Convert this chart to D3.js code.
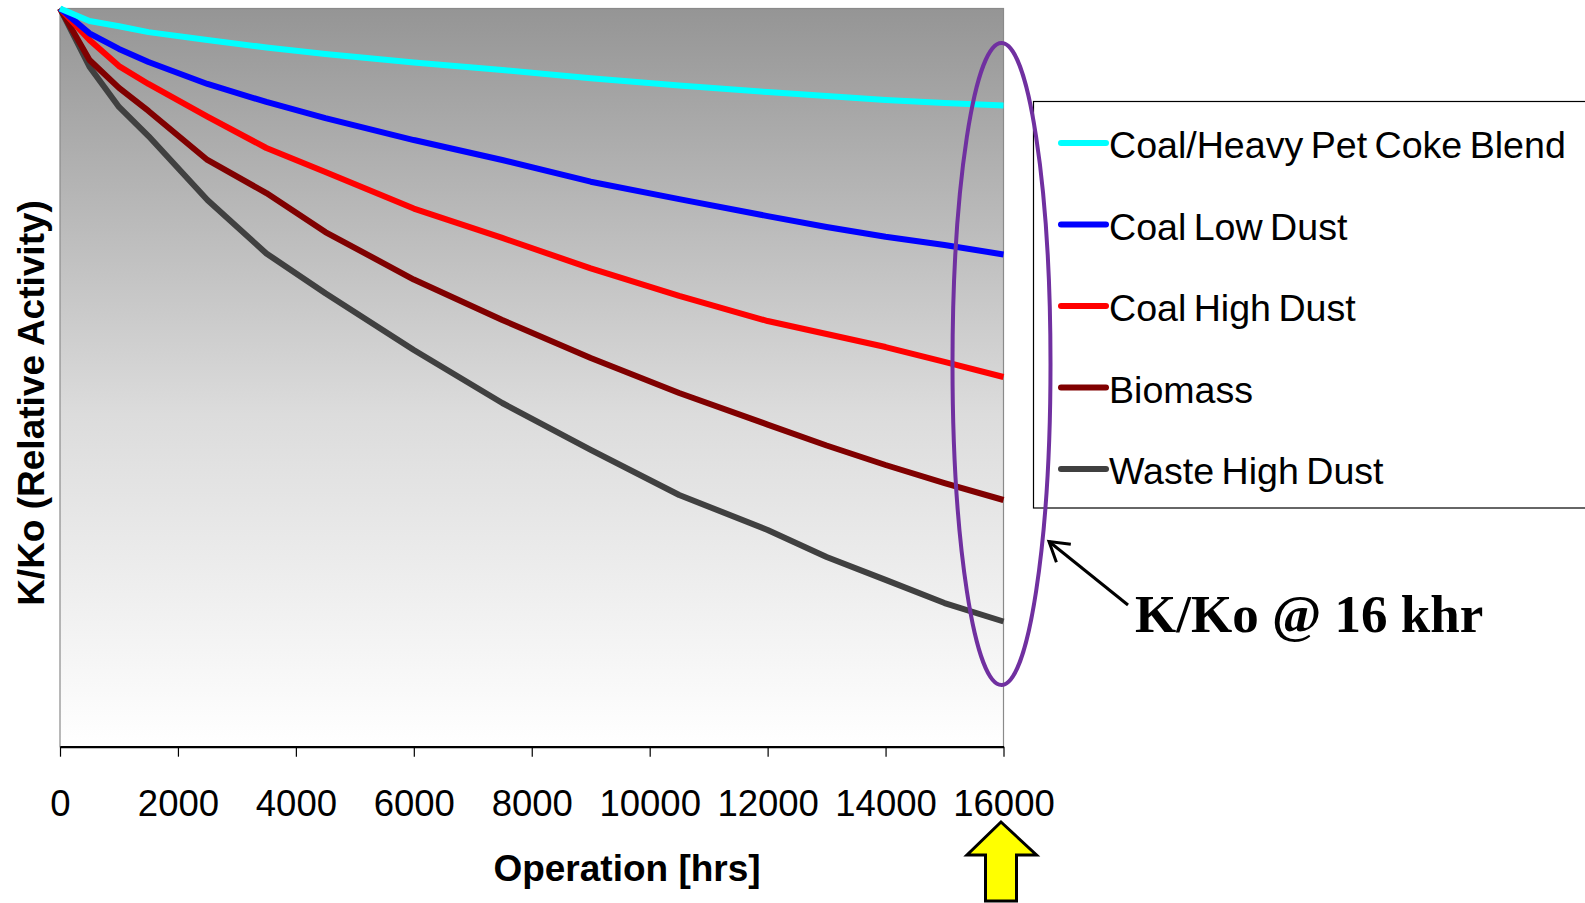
<!DOCTYPE html>
<html><head><meta charset="utf-8">
<script src="https://cdn.jsdelivr.net/npm/d3@7"></script>
<style>body{margin:0;background:#fff;} svg{display:block;}</style>
</head><body>
<svg id="chart" width="1585" height="903"></svg>
<script>
// ---- data ----
const hours = [0, 500, 1000, 1500, 2500, 3500, 4500, 6000, 7500, 9000, 10500, 12000, 13000, 14000, 15000, 16000];
const coalPetCoke = [1.000, 0.9915, 0.988, 0.984, 0.9787, 0.9736, 0.9692, 0.9634, 0.9583, 0.9527, 0.9478, 0.9434, 0.9407, 0.938, 0.936, 0.9343];
const coalLowDust = [1.000, 0.9832, 0.9726, 0.9638, 0.9489, 0.9367, 0.9258, 0.9109, 0.8974, 0.8827, 0.8709, 0.8594, 0.852, 0.8454, 0.8398, 0.8334];
const coalHighDust = [1.000, 0.9787, 0.961, 0.9489, 0.9268, 0.9055, 0.8893, 0.8645, 0.8446, 0.824, 0.8053, 0.7883, 0.7795, 0.7707, 0.7606, 0.7504];
const biomass = [1.000, 0.9651, 0.9462, 0.9306, 0.8974, 0.875, 0.8486, 0.8164, 0.789, 0.7633, 0.7396, 0.7182, 0.704, 0.6908, 0.6786, 0.6671];
const wasteHighDust = [1.000, 0.9606, 0.9333, 0.9136, 0.8703, 0.8341, 0.8071, 0.7687, 0.7328, 0.701, 0.6705, 0.6468, 0.6285, 0.613, 0.5973, 0.5848];
const seriesNames = ["Coal/Heavy Pet Coke Blend", "Coal Low Dust", "Coal High Dust", "Biomass", "Waste High Dust"];
const seriesColors = ["#00FFFF", "#0000FF", "#FF0000", "#800000", "#404040"];
const xTicks = [0, 2000, 4000, 6000, 8000, 10000, 12000, 14000, 16000];
const yDomain = [0.5, 1.0];
const xTitle = "Operation [hrs]";
const yTitle = "K/Ko (Relative Activity)";
const calloutText = "K/Ko @ 16 khr";

const seriesValues = [coalPetCoke, coalLowDust, coalHighDust, biomass, wasteHighDust];
const series = seriesNames.map((n, i) => ({
  name: n, color: seriesColors[i],
  points: hours.map((h, j) => ({ h, v: seriesValues[i][j] }))
}));

const svg = d3.select("#chart");
const L = 60, R = 1003.5, T = 8.5, B = 746.7;
const x = d3.scaleLinear().domain([0, 16000]).range([L, R]);
const y = d3.scaleLinear().domain(yDomain).range([B, T]);

// gradient background
const defs = svg.append("defs");
const grad = defs.append("linearGradient").attr("id", "bg").attr("x1", 0).attr("y1", 0).attr("x2", 0).attr("y2", 1);
grad.append("stop").attr("offset", "0%").attr("stop-color", "#959595");
grad.append("stop").attr("offset", "55%").attr("stop-color", "#dcdcdc");
grad.append("stop").attr("offset", "100%").attr("stop-color", "#ffffff");

svg.append("rect").attr("x", L).attr("y", T).attr("width", R - L).attr("height", B - T)
  .attr("fill", "url(#bg)").attr("stroke", "#8a8a8a").attr("stroke-width", 1.2);

// lines
const line = d3.line().x(d => x(d.h)).y(d => y(d.v));
svg.append("g").selectAll("path").data(series.slice().reverse()).join("path")
  .attr("d", d => line(d.points))
  .attr("fill", "none").attr("stroke", d => d.color)
  .attr("stroke-width", 6).attr("stroke-linejoin", "round");

// x axis
const xAxis = d3.axisBottom(x).tickValues(xTicks).tickSize(10).tickSizeOuter(0).tickPadding(33)
  .tickFormat(d3.format("d"));
const gx = svg.append("g").attr("transform", `translate(0,${B})`).call(xAxis);
gx.select(".domain").attr("stroke", "#000").attr("stroke-width", 2.2);
gx.selectAll(".tick line").attr("stroke", "#000").attr("stroke-width", 1.2);
gx.selectAll(".tick text").attr("font-family", "Arial, 'Liberation Sans', sans-serif")
  .attr("font-size", 36.5).attr("fill", "#000");

// axis titles
svg.append("text").attr("x", 627).attr("y", 881).attr("text-anchor", "middle")
  .attr("font-family", "Arial, 'Liberation Sans', sans-serif").attr("font-weight", "bold")
  .attr("font-size", 37).attr("fill", "#000").text(xTitle);
svg.append("text").attr("transform", "translate(44,403) rotate(-90)").attr("text-anchor", "middle")
  .attr("font-family", "Arial, 'Liberation Sans', sans-serif").attr("font-weight", "bold")
  .attr("font-size", 37).attr("fill", "#000").text(yTitle);

// legend
const lg = svg.append("g");
lg.append("rect").attr("x", 1033.5).attr("y", 101.5).attr("width", 560).attr("height", 406.5)
  .attr("fill", "#fff").attr("stroke", "#000").attr("stroke-width", 1.2);
const rows = lg.selectAll("g.row").data(series).join("g").attr("class", "row")
  .attr("transform", (d, i) => `translate(0,${143 + i * 81.5})`);
rows.append("line").attr("x1", 1061).attr("x2", 1106).attr("y1", 0).attr("y2", 0)
  .attr("stroke", d => d.color).attr("stroke-width", 6).attr("stroke-linecap", "round");
rows.append("text").attr("x", 1109).attr("y", 15)
  .attr("font-family", "Arial, 'Liberation Sans', sans-serif").attr("font-size", 37.6)
  .attr("word-spacing", -3).attr("fill", "#000").text(d => d.name);

// ellipse around the 16 khr values
const cx = x(16000) - 2;
svg.append("ellipse").attr("cx", cx).attr("cy", 364).attr("rx", 49).attr("ry", 321)
  .attr("fill", "none").attr("stroke", "#7030A0").attr("stroke-width", 4);

// callout arrow
const a0 = [1128, 605], a1 = [1049, 541.5];
svg.append("line").attr("x1", a0[0]).attr("y1", a0[1]).attr("x2", a1[0]).attr("y2", a1[1])
  .attr("stroke", "#000").attr("stroke-width", 3);
const ang = Math.atan2(a0[1] - a1[1], a0[0] - a1[0]);
const hl = 22, spread = 0.55;
const p1 = [a1[0] + hl * Math.cos(ang - spread), a1[1] + hl * Math.sin(ang - spread)];
const p2 = [a1[0] + hl * Math.cos(ang + spread), a1[1] + hl * Math.sin(ang + spread)];
svg.append("path").attr("d", `M${p1}L${a1}L${p2}`).attr("fill", "none")
  .attr("stroke", "#000").attr("stroke-width", 3).attr("stroke-linejoin", "miter");
svg.append("text").attr("x", 1135).attr("y", 631.5)
  .attr("font-family", "'Times New Roman', 'Liberation Serif', serif").attr("font-weight", "bold")
  .attr("font-size", 53).attr("fill", "#000").text(calloutText);

// yellow arrow under 16000
const tx = x(16000) - 2.5;
const yPts = [[tx, 822], [tx + 35.5, 855], [tx + 15.5, 855], [tx + 15.5, 901], [tx - 15.5, 901], [tx - 15.5, 855], [tx - 34, 855]];
svg.append("path").attr("d", "M" + yPts.join("L") + "Z").attr("fill", "#FFFF00")
  .attr("stroke", "#000").attr("stroke-width", 3).attr("stroke-linejoin", "miter");
</script>
</body></html>
